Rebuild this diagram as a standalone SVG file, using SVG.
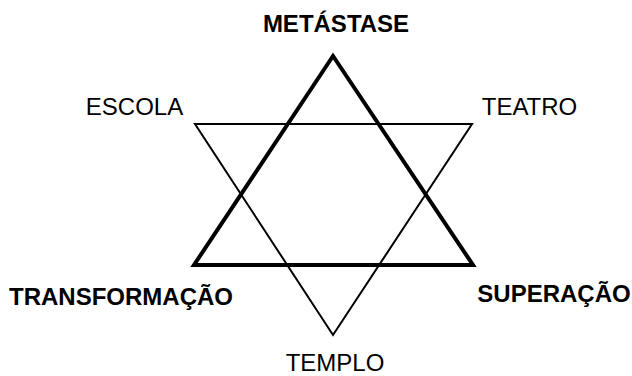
<svg xmlns="http://www.w3.org/2000/svg" width="632" height="376" viewBox="0 0 632 376">
<style>
.lbl{font-family:"Liberation Sans",Arial,sans-serif;font-size:24px;fill:#000;text-anchor:middle}
.b{font-weight:bold}
.thin{fill:none;stroke:#000;stroke-width:2;stroke-linejoin:miter}
.thick{fill:none;stroke:#000;stroke-width:4;stroke-linejoin:miter}
</style>
<rect width="632" height="376" fill="#fff"/>
<g id="connectors">
<polygon class="thin" points="195,124 472,124 333,335"/>
<polygon class="thick" points="194,265 473,265 333,56"/>
</g>
<g id="metastase"><text class="lbl b" x="336" y="32">METÁSTASE</text></g>
<g id="escola"><text class="lbl" x="134.5" y="115">ESCOLA</text></g>
<g id="teatro"><text class="lbl" x="529.5" y="115">TEATRO</text></g>
<g id="transformacao"><text class="lbl b" x="121" y="305">TRANSFORMAÇÃO</text></g>
<g id="superacao"><text class="lbl b" x="554" y="302">SUPERAÇÃO</text></g>
<g id="templo"><text class="lbl" x="335" y="371">TEMPLO</text></g>
</svg>
